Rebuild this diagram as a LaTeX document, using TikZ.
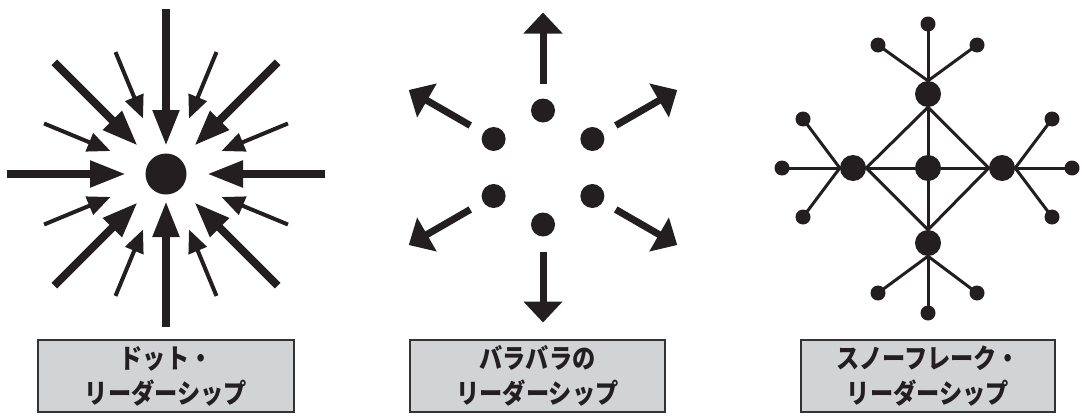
\documentclass[tikz,border=0pt]{standalone}
\usepackage{fontspec}
\newfontfamily\cjk{Noto Sans CJK JP}[FakeStretch=0.86]
\usetikzlibrary{arrows.meta}
\definecolor{ink}{HTML}{231F20}
\definecolor{boxgray}{HTML}{D1D3D4}
\definecolor{boxline}{HTML}{333333}
\begin{document}
\begin{tikzpicture}[x=1pt,y=-1pt,
  thickarrow/.style={line width=8pt, draw=ink, -{Triangle[length=36pt,width=25pt]}},
  thinarrow/.style={line width=4pt, draw=ink, -{Triangle[length=23pt,width=19pt]}},
  outarrow/.style={line width=7pt, draw=ink, -{Triangle[length=21pt,width=38pt]}},
  hubdot/.style={circle, fill=ink, inner sep=0pt, minimum size=41pt},
  middot/.style={circle, fill=ink, inner sep=0pt, minimum size=24pt},
  bigdot/.style={circle, fill=ink, inner sep=0pt, minimum size=26pt},
  smalldot/.style={circle, fill=ink, inner sep=0pt, minimum size=15pt},
  link/.style={line width=3pt, draw=ink},
  labelbox/.style={draw=boxline, fill=boxgray, line width=2pt, minimum height=72pt,
    inner sep=0pt, align=center, text=ink,
    font=\cjk\bfseries\fontsize{27}{35}\selectfont}
]
\useasboundingbox (0,0) rectangle (1083,415);

% ---------- left: dot leadership ----------
\node[hubdot] (hub) at (166,174) {};
\draw[thickarrow] ([shift={(0:159)}]hub.center) -- ([shift={(0:41)}]hub.center);
\draw[thickarrow] ([shift={(180:159)}]hub.center) -- ([shift={(180:40)}]hub.center);
\draw[thickarrow] ([shift={(270:165)}]hub.center) -- ([shift={(270:28)}]hub.center);
\draw[thickarrow] ([shift={(90:153)}]hub.center) -- ([shift={(90:27)}]hub.center);
\foreach \a in {45,135,225,315}
  \draw[thickarrow] ([shift={(\a:158)}]hub.center) -- ([shift={(\a:40)}]hub.center);
\foreach \a in {22.5,67.5,112.5,157.5,202.5,247.5,292.5,337.5}
  \draw[thinarrow] ([shift={(\a:132)}]hub.center) -- ([shift={(\a:60)}]hub.center);

% ---------- middle: scattered leadership ----------
\coordinate (mid) at (543,167.5);
\foreach \a/\n in {270/m1,330/m2,30/m3,90/m4,150/m5,210/m6}{
  \node[middot] (\n) at ([shift={(\a:57)}]mid) {};
  \draw[outarrow] ([shift={(\a:84)}]mid) -- ([shift={(\a:155)}]mid);
}

% ---------- right: snowflake leadership ----------
\node[bigdot] (C) at (928,168) {};
\node[bigdot] (T) at (928,94) {};
\node[bigdot] (B) at (928,243) {};
\node[bigdot] (L) at (853,168) {};
\node[bigdot] (R) at (1002,168) {};
\node[smalldot] (t1) at (878,45) {};
\node[smalldot] (t2) at (928,24) {};
\node[smalldot] (t3) at (977,45) {};
\node[smalldot] (b1) at (878,293) {};
\node[smalldot] (b2) at (928,313) {};
\node[smalldot] (b3) at (977,293) {};
\node[smalldot] (l1) at (803,119) {};
\node[smalldot] (l2) at (782,168) {};
\node[smalldot] (l3) at (803,217) {};
\node[smalldot] (r1) at (1052,119) {};
\node[smalldot] (r2) at (1072,168) {};
\node[smalldot] (r3) at (1052,217) {};
\draw[link] (T.south) -- (B.north);
\draw[link] (L.east) -- (R.west);
\draw[link] (T.south) -- (L.east) -- (B.north) -- (R.west) -- cycle;
\foreach \s in {t1,t2,t3} \draw[link] (T.north) -- (\s.center);
\foreach \s in {b1,b2,b3} \draw[link] (B.south) -- (\s.center);
\foreach \s in {l1,l2,l3} \draw[link] (L.west) -- (\s.center);
\foreach \s in {r1,r2,r3} \draw[link] (R.east) -- (\s.center);

% ---------- labels ----------
\node[labelbox, minimum width=256pt] (lab1) at (166,376) {ドット・\\リーダーシップ};
\node[labelbox, minimum width=255pt] (lab2) at (537.5,376) {バラバラの\\リーダーシップ};
\node[labelbox, minimum width=254pt] (lab3) at (928,376) {スノーフレーク・\\リーダーシップ};
\end{tikzpicture}
\end{document}
